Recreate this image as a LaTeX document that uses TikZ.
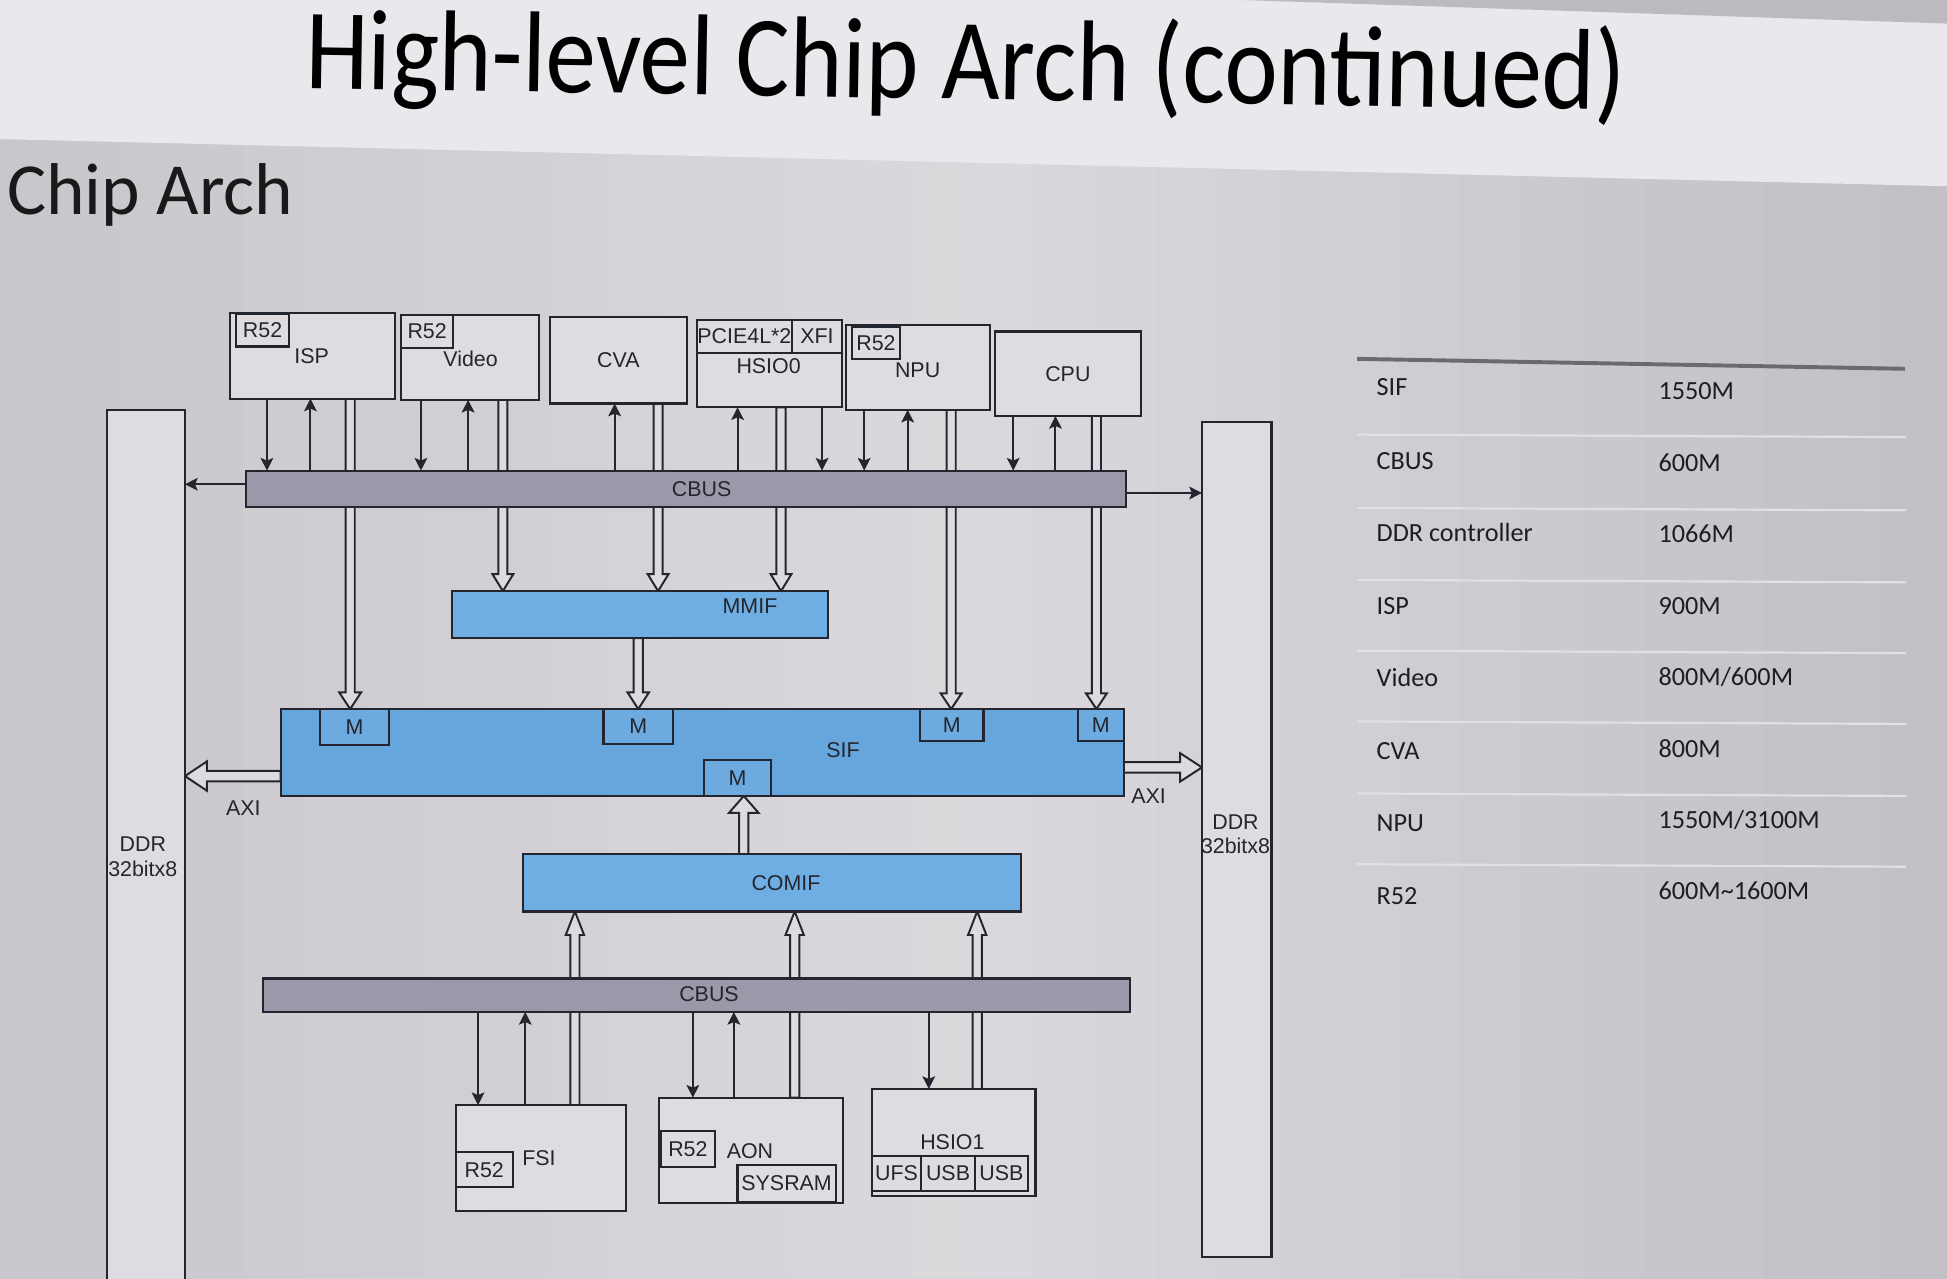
\documentclass[tikz,border=0pt]{standalone}
\usepackage{fontspec}
\setmainfont{Liberation Sans}
\newfontfamily\slidefont{Carlito}
\usetikzlibrary{calc,fit,arrows.meta}

\definecolor{bgL}{HTML}{C9C7CB}
\definecolor{bgM}{HTML}{DBD9DD}
\definecolor{bgR}{HTML}{C2C0C4}
\definecolor{bandcol}{HTML}{EAE8EC}
\definecolor{stripcol}{HTML}{BCBABE}
\definecolor{ink}{HTML}{23262E}
\definecolor{modfill}{HTML}{DEDCE0}
\definecolor{busfill}{HTML}{9C97A9}
\definecolor{sifblue}{HTML}{67A6DC}
\definecolor{mblue}{HTML}{6CAADF}
\definecolor{ifblue}{HTML}{6EAEE2}
\definecolor{rulecol}{HTML}{6C6A70}
\definecolor{rowline}{HTML}{E2E0E4}
\definecolor{shaftfill}{HTML}{DDDBDF}
\definecolor{tabink}{HTML}{1E1E22}

\pgfdeclarelayer{back}
\pgfdeclarelayer{links}
\pgfsetlayers{back,links,main}

\newcommand\diag{\fontsize{4.9pt}{5.6pt}\selectfont}
\newcommand\tabfont{\slidefont\fontsize{6pt}{7pt}\selectfont}

% hollow (block) arrow: half shaft width, half head width, head length, start, tip
\newcommand\hollowarrow[5]{%
  \path (#4) coordinate (ha-s) (#5) coordinate (ha-t);
  \path ($(ha-t)!#3!(ha-s)$) coordinate (ha-h);
  \draw[hollow] ($(ha-s)!#1!90:(ha-t)$) -- ($(ha-h)!#1!90:(ha-t)$)
    -- ($(ha-h)!#2!90:(ha-t)$) -- (ha-t) -- ($(ha-h)!#2!-90:(ha-t)$)
    -- ($(ha-h)!#1!-90:(ha-t)$) -- ($(ha-s)!#1!-90:(ha-t)$) -- cycle;}

\begin{document}
\begin{tikzpicture}[x=0.01cm, y=-0.01cm,
  box/.style={draw=ink, fill=modfill, line width=0.5pt, inner sep=0pt, outer sep=0pt},
  bus/.style={box, fill=busfill},
  lbl/.style={font=\diag, text=ink, inner sep=0pt},
  tarrow/.style={draw=ink, line width=0.45pt, -{Stealth[length=2.9pt, width=2.9pt, inset=0.6pt]}},
  hollow/.style={draw=ink, fill=shaftfill, line width=0.45pt, line join=miter},
  tabtxt/.style={font=\tabfont, text=tabink, inner sep=0pt, anchor=west}]
\useasboundingbox (0,0) rectangle (1568,1030);

\begin{pgfonlayer}{back}
  % screen background, lighter in the middle and darker towards both sides
  \foreach \i in {0,...,31} {
    \pgfmathsetmacro\xa{\i*49}
    \pgfmathsetmacro\xb{\xa+50}
    \pgfmathsetmacro\t{abs(\i-15.5)/15.5*100}
    \ifnum\i<16
      \fill[bgL!\t!bgM] (\xa,0) rectangle (\xb,1030);
    \else
      \fill[bgR!\t!bgM] (\xa,0) rectangle (\xb,1030);
    \fi
  }
  \fill[bandcol] (0,0) -- (1568,0) -- (1568,150) -- (0,112) -- cycle;
  \fill[stripcol] (1000,0) -- (1568,0) -- (1568,19) -- cycle;
\end{pgfonlayer}

% headings
\node[anchor=base west, inner sep=0pt, rotate=-0.95, text=black] (title) at (245,71)
  {\slidefont\fontsize{23.1pt}{26pt}\selectfont\scalebox{1}[1.14]{High-level Chip Arch (continued)}};
\node[anchor=base west, inner sep=0pt, text=black!90] (subtitle) at (5,173)
  {\slidefont\fontsize{16.8pt}{19pt}\selectfont Chip Arch};

% DDR memories
\node[box, fit={(86,330) (149,1036)}] (ddrL) {};
\node[box, fit={(968,340) (1024,1012)}] (ddrR) {};
\node[lbl, align=center] (ddrL-t) at (115,690) {DDR\\32bitx8};
\node[lbl, align=center] (ddrR-t) at (995,672) {DDR\\32bitx8};

% top row of modules
\node[box, fit={(185,252) (318,321)}] (isp) {};
\node[box, fit={(190,253) (233,279)}] (isp-r) {};
\node[lbl] (isp-rt) at (isp-r.center) {R52};
\node[lbl] (isp-t) at (251,287) {ISP};
\node[box, fit={(323,254) (434,322)}] (video) {};
\node[box, fit={(323,254) (365,280)}] (video-r) {};
\node[lbl] (video-rt) at (video-r.center) {R52};
\node[lbl] (video-t) at (379,289) {Video};
\node[box, fit={(443,255) (553,325)}] (cva) {};
\node[lbl] (cva-t) at (cva.center) {CVA};
\node[box, fit={(561,258) (678,328)}] (hsio0) {};
\node[box, fit={(561,258) (638,284)}] (pcie) {};
\node[lbl] (pcie-t) at (pcie.center) {PCIE4L*2};
\node[box, fit={(638,258) (678,284)}] (xfi) {};
\node[lbl] (xfi-t) at (xfi.center) {XFI};
\node[lbl] (hsio0-t) at (619,295) {HSIO0};
\node[box, fit={(681,262) (797,330)}] (npu) {};
\node[box, fit={(686,263) (725,289)}] (npu-r) {};
\node[lbl] (npu-rt) at (npu-r.center) {R52};
\node[lbl] (npu-t) at (739,298) {NPU};
\node[box, fit={(801,267) (919,335)}] (cpu) {};
\node[lbl] (cpu-t) at (cpu.center) {CPU};

% control buses
\node[bus, fit={(198,379) (907,408)}] (cbusA) {};
\node[lbl] (cbusA-t) at (565,394) {CBUS};
\node[bus, fit={(212,788) (910,815)}] (cbusB) {};
\node[lbl] (cbusB-t) at (571,801) {CBUS};

% interconnect fabric
\node[box, fill=ifblue, fit={(364,476) (667,514)}] (mmif) {};
\node[lbl] (mmif-t) at (604,488) {MMIF};
\node[box, fill=sifblue, fit={(226,571) (905,641)}] (sif) {};
\node[lbl] (sif-t) at (679,604) {SIF};
\node[box, fill=mblue, fit={(258,571) (313,600)}] (m1) {};
\node[box, fill=mblue, fit={(486,571) (542,599)}] (m2) {};
\node[box, fill=mblue, fit={(741,571) (792,597)}] (m3) {};
\node[box, fill=mblue, fit={(868,571) (905,597)}] (m4) {};
\node[box, fill=mblue, fit={(567,612) (621,641)}] (m5) {};
\foreach \m in {m1,m2,m3,m4,m5}
  \node[lbl] (\m-t) at (\m.center) {M};
\node[box, fill=ifblue, fit={(421,688) (822,734)}] (comif) {};
\node[lbl] (comif-t) at (633,711) {COMIF};
\node[lbl] (axiL) at (196,651) {AXI};
\node[lbl] (axiR) at (925,641) {AXI};

% bottom row of modules
\node[box, fit={(367,890) (504,975)}] (fsi) {};
\node[box, fit={(367,928) (413,956)}] (fsi-r) {};
\node[lbl] (fsi-rt) at (fsi-r.center) {R52};
\node[lbl] (fsi-t) at (434,933) {FSI};
\node[box, fit={(531,884) (679,969)}] (aon) {};
\node[box, fit={(532,911) (576,940)}] (aon-r) {};
\node[lbl] (aon-rt) at (aon-r.center) {R52};
\node[lbl] (aon-t) at (604,927) {AON};
\node[box, fit={(594,938) (673,968)}] (sysram) {};
\node[lbl] (sysram-t) at (sysram.center) {SYSRAM};
\node[box, fit={(702,877) (834,963)}] (hsio1) {};
\node[lbl] (hsio1-t) at (767,920) {HSIO1};
\node[box, fit={(702,931) (742,959)}] (ufs) {};
\node[box, fit={(742,931) (785,959)}] (usb1) {};
\node[box, fit={(785,931) (828,959)}] (usb2) {};
\node[lbl] (ufs-t) at (ufs.center) {UFS};
\node[lbl] (usb1-t) at (usb1.center) {USB};
\node[lbl] (usb2-t) at (usb2.center) {USB};

\begin{pgfonlayer}{links}
  % register / control links to the upper bus
  \draw[tarrow] (215,0 |- isp.south) -- (215,0 |- cbusA.north);
  \draw[tarrow] (250,0 |- cbusA.north) -- (250,0 |- isp.south);
  \draw[tarrow] (339,0 |- video.south) -- (339,0 |- cbusA.north);
  \draw[tarrow] (377,0 |- cbusA.north) -- (377,0 |- video.south);
  \draw[tarrow] (495,0 |- cbusA.north) -- (495,0 |- cva.south);
  \draw[tarrow] (594,0 |- cbusA.north) -- (594,0 |- hsio0.south);
  \draw[tarrow] (662,0 |- hsio0.south) -- (662,0 |- cbusA.north);
  \draw[tarrow] (696,0 |- npu.south) -- (696,0 |- cbusA.north);
  \draw[tarrow] (731,0 |- cbusA.north) -- (731,0 |- npu.south);
  \draw[tarrow] (816,0 |- cpu.south) -- (816,0 |- cbusA.north);
  \draw[tarrow] (850,0 |- cbusA.north) -- (850,0 |- cpu.south);
  \draw[tarrow] (cbusA.west |- 0,390) -- (ddrL.east |- 0,390);
  \draw[tarrow] (cbusA.east |- 0,397) -- (ddrR.west |- 0,397);
  % control links to the lower bus
  \draw[tarrow] (385,0 |- cbusB.south) -- (385,0 |- fsi.north);
  \draw[tarrow] (423,0 |- fsi.north) -- (423,0 |- cbusB.south);
  \draw[tarrow] (558,0 |- cbusB.south) -- (558,0 |- aon.north);
  \draw[tarrow] (591,0 |- aon.north) -- (591,0 |- cbusB.south);
  \draw[tarrow] (748,0 |- cbusB.south) -- (748,0 |- hsio1.north);
  % data paths
  \hollowarrow{1.05pt}{2.5pt}{3.8pt}{282,0 |- isp.south}{282,0 |- m1.north}
  \hollowarrow{1.05pt}{2.4pt}{3.9pt}{405,0 |- video.south}{405,0 |- mmif.north}
  \hollowarrow{1.05pt}{2.4pt}{3.9pt}{530,0 |- cva.south}{530,0 |- mmif.north}
  \hollowarrow{1.05pt}{2.4pt}{3.9pt}{629,0 |- hsio0.south}{629,0 |- mmif.north}
  \hollowarrow{1.05pt}{2.4pt}{3.6pt}{766,0 |- npu.south}{766,0 |- m3.north}
  \hollowarrow{1.05pt}{2.4pt}{3.6pt}{883,0 |- cpu.south}{883,0 |- m4.north}
  \hollowarrow{1.05pt}{2.45pt}{3.8pt}{514,0 |- mmif.south}{514,0 |- m2.north}
  \hollowarrow{1.05pt}{3.4pt}{3.9pt}{599,0 |- comif.north}{599,0 |- m5.south}
  \hollowarrow{1.05pt}{2.1pt}{5.4pt}{463,0 |- fsi.north}{463,0 |- comif.south}
  \hollowarrow{1.05pt}{2.1pt}{5.4pt}{640,0 |- aon.north}{640,0 |- comif.south}
  \hollowarrow{1.05pt}{2.1pt}{5.4pt}{787,0 |- hsio1.north}{787,0 |- comif.south}
  \hollowarrow{1.2pt}{3.35pt}{5pt}{sif.west |- 0,625}{ddrL.east |- 0,625}
  \hollowarrow{1.2pt}{3.25pt}{5pt}{sif.east |- 0,618}{ddrR.west |- 0,618}
\end{pgfonlayer}

% clock table
\draw[rulecol, line width=0.9pt] (1093,289) -- (1534,297);
\foreach \y in {350,409,467,524,581,639,696}
  \draw[rowline, line width=0.5pt] (1093,\y) -- (1535,\y+2);
\foreach \lab/\val/\yl/\yv [count=\i] in {
    SIF/1550M/312/315, CBUS/600M/371/373, DDR controller/1066M/429/430,
    ISP/900M/488/488, Video/800M\slash 600M/546/545, CVA/800M/605/603,
    NPU/1550M\slash 3100M/663/660, R52/600M\textasciitilde 1600M/722/717} {
  \node[tabtxt] (tab-l\i) at (1108,\yl) {\lab};
  \node[tabtxt] (tab-v\i) at (1335,\yv) {\val};
}
\end{tikzpicture}
\end{document}
